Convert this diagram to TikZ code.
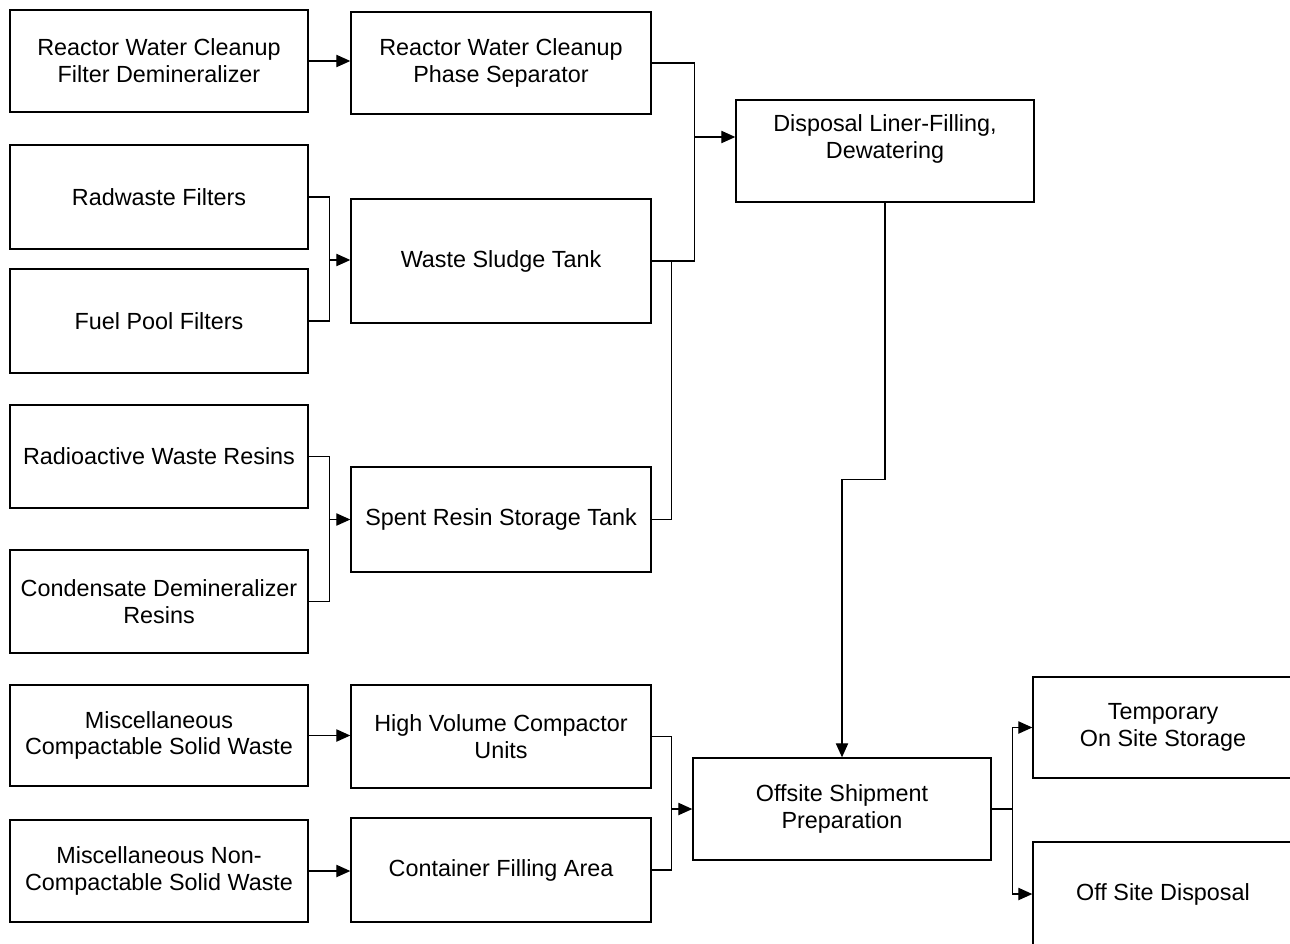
\documentclass[tikz,border=0pt]{standalone}
\usepackage{fontspec}
\setmainfont{Liberation Sans}
\usetikzlibrary{arrows.meta}

\tikzset{
    unit/.style={draw, line width=0.8pt, align=center, inner sep=2pt,
        font=\fontsize{13.3}{15.3}\selectfont},
    arr/.style={-{Triangle[length=8pt,width=7pt]}},
}

\begin{document}
\begin{tikzpicture}[x=0.02cm, y=-0.02cm, line width=0.8pt]

    % Fix the page to the reference size
    \useasboundingbox (0,0) rectangle (1290,943);

    % Sources (left column)
    \node[unit, minimum width=5.96cm, minimum height=2.04cm] (fd) at (159,61) {Reactor Water Cleanup\\Filter Demineralizer};
    \node[unit, minimum width=5.96cm, minimum height=2.08cm] (rwf) at (159,197) {Radwaste Filters};
    \node[unit, minimum width=5.96cm, minimum height=2.08cm] (fpf) at (159,321) {Fuel Pool Filters};
    \node[unit, minimum width=5.96cm, minimum height=2.06cm] (rwr) at (159,456.5) {Radioactive Waste Resins};
    \node[unit, minimum width=5.96cm, minimum height=2.06cm] (cdr) at (159,601.5) {Condensate Demineralizer\\Resins};
    \node[unit, minimum width=5.96cm, minimum height=2.02cm] (mcs) at (159,735.5) {Miscellaneous\\Compactable Solid Waste};
    \node[unit, minimum width=5.96cm, minimum height=2.04cm] (mns) at (159,871) {Miscellaneous Non-\\Compactable Solid Waste};

    % Intermediate units (middle column)
    \node[unit, minimum width=6cm, minimum height=2.04cm] (ps) at (501,63) {Reactor Water Cleanup\\Phase Separator};
    \node[unit, minimum width=6cm, minimum height=2.48cm] (wst) at (501,261) {Waste Sludge Tank};
    \node[unit, minimum width=6cm, minimum height=2.1cm] (srst) at (501,519.5) {Spent Resin Storage Tank};
    \node[unit, minimum width=6cm, minimum height=2.06cm] (hvc) at (501,736.5) {High Volume Compactor\\Units};
    \node[unit, minimum width=6cm, minimum height=2.08cm] (cfa) at (501,870) {Container Filling Area};

    % Processing and destinations
    \node[unit, minimum width=5.96cm, minimum height=2.04cm] (dlf) at (885,151) {};
    \node[unit, draw=none] (dlftext) at (885,139) {Disposal Liner-Filling,\\Dewatering};
    \node[unit, minimum width=5.96cm, minimum height=2.04cm] (osp) at (842,809) {Offsite Shipment\\Preparation};
    \node[unit, minimum width=5.2cm, minimum height=2.02cm] (tos) at (1163,727.5) {Temporary\\On Site Storage};
    \node[unit, minimum width=5.2cm, minimum height=2.08cm] (osd) at (1163,894) {Off Site Disposal};

    % Filter demineralizer to phase separator
    \draw[arr] (fd.east) -- (fd.east -| ps.west);

    % Filters to sludge tank
    \draw (rwf.east) -- ++(21,0) |- (fpf.east);
    \coordinate (fjoin) at (329,260);
    \draw[arr] (fjoin) -- (fjoin -| wst.west);

    % Resins to spent resin tank
    \draw (rwr.east) -- ++(21,0) |- (cdr.east);
    \coordinate (rjoin) at (329,519.5);
    \draw[arr] (rjoin) -- (rjoin -| srst.west);

    % Tanks to disposal liner
    \draw (ps.east) -- ++(43,0) |- (wst.east);
    \draw (srst.east) -- ++(20,0) |- (wst.east);
    \coordinate (tjoin) at (694,137);
    \draw[arr] (tjoin) -- (tjoin -| dlf.west);

    % Solid waste
    \draw[arr] (mcs.east) -- (mcs.east -| hvc.west);
    \draw[arr] (mns.east) -- (mns.east -| cfa.west);
    \draw (hvc.east) -- ++(20,0) |- (cfa.east);
    \coordinate (cjoin) at (671,809);
    \draw[arr] (cjoin) -- (osp.west);

    % Disposal liner down to shipment
    \draw[arr] (dlf.south) -- ++(0,277) -| (osp.north);

    % Shipment to storage or disposal
    \draw (osp.east) -- ++(21,0) coordinate (ojoin);
    \draw[arr] (ojoin) |- (tos.west);
    \draw[arr] (ojoin) |- (osd.west);

\end{tikzpicture}
\end{document}
